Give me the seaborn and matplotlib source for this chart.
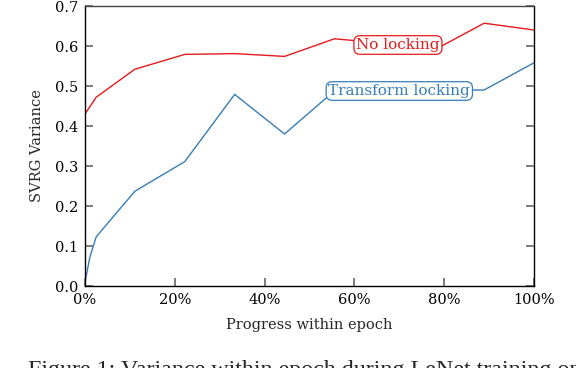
import numpy as np
import pandas as pd
import seaborn as sns
from matplotlib import pyplot as plt
from matplotlib.ticker import PercentFormatter

# progress within epoch (fraction) and SVRG variance
no_lock_x = [0.0, 0.025, 1/9, 2/9, 3/9, 4/9, 5/9, 6/9, 7/9, 8/9, 1.0]
no_lock_y = [0.43, 0.472, 0.542, 0.579, 0.581, 0.574, 0.618, 0.607, 0.59, 0.657, 0.64]

transform_x = [0.0, 0.011, 0.025, 1/9, 2/9, 3/9, 4/9, 5/9, 6/9, 7/9, 8/9, 1.0]
transform_y = [0.01, 0.073, 0.123, 0.237, 0.311, 0.479, 0.38, 0.488, 0.49, 0.49, 0.49, 0.558]

red = '#e41a1c'
blue = '#377eb8'

sns.set_style('ticks')
plt.rcParams['font.family'] = ['DejaVu Serif']

df_red = pd.DataFrame({'x': no_lock_x, 'y': no_lock_y})
df_blue = pd.DataFrame({'x': transform_x, 'y': transform_y})

fig = plt.figure(figsize=(5.76, 3.68), dpi=100)
ax = fig.add_axes([85/576, 1 - 286/368, (534 - 85)/576, (286 - 6)/368])

sns.lineplot(data=df_red, x='x', y='y', color=red, lw=1.0, ax=ax)
sns.lineplot(data=df_blue, x='x', y='y', color=blue, lw=1.0, ax=ax)

# inline labels with rounded boxes
ax.text(0.697, 0.6025, 'No locking', color=red, fontsize=11, ha='center', va='center',
        bbox=dict(boxstyle='round,pad=0.15,rounding_size=0.4', fc='white', ec=red, lw=0.9, alpha=1))
ax.text(0.70, 0.4875, 'Transform locking', color=blue, fontsize=11, ha='center', va='center',
        bbox=dict(boxstyle='round,pad=0.15,rounding_size=0.4', fc='white', ec=blue, lw=0.9, alpha=1))

ax.set_xlim(0, 1)
ax.set_ylim(0, 0.7)
ax.set_xticks(np.arange(0, 1.01, 0.2))
ax.set_yticks(np.arange(0, 0.71, 0.1))
ax.xaxis.set_major_formatter(PercentFormatter(1.0, decimals=0))
ax.yaxis.set_major_formatter(plt.FuncFormatter(lambda v, p: f'{v:.1f}'))

for s in ax.spines.values():
    s.set_visible(True)
    s.set_linewidth(1.0)
    s.set_color('black')
ax.spines['top'].set_color('#444444')

ax.tick_params(axis='both', direction='in', length=6, width=1.2, color='#666666',
               labelsize=10.5, labelcolor='black', pad=5)
ax.tick_params(axis='y', right=True, left=True)
ax.tick_params(axis='x', top=False, bottom=True)

ax.set_xlabel('Progress within epoch', fontsize=10.5, labelpad=8)
ax.set_ylabel('SVRG Variance', fontsize=10.5, labelpad=8)

# caption of the source figure, cut by the bottom edge as in the original
fig.text(28/576, 8/368, 'Figure 1: Variance within epoch during LeNet training on CIFAR10.',
         fontsize=17.3, family='Liberation Serif', va='top', ha='left')

fig.savefig('out.png', dpi=100)
